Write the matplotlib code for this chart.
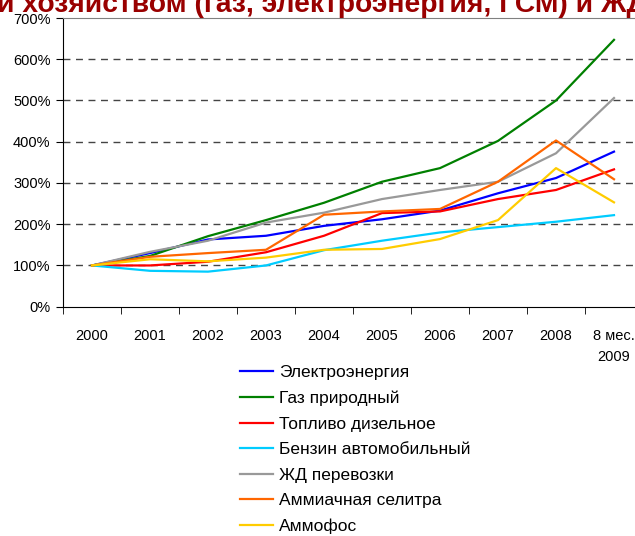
import numpy as np
import matplotlib.pyplot as plt

plt.rcParams['font.family'] = ['Liberation Sans', 'DejaVu Sans']

years = ["2000", "2001", "2002", "2003", "2004", "2005", "2006", "2007", "2008", "8 мес.\n2009"]

elektro = [100, 130, 163, 172, 196, 212, 233, 275, 312, 376]
gaz = [100, 123, 171, 210, 252, 303, 336, 402, 500, 647]
toplivo = [100, 100, 109, 132, 172, 227, 231, 261, 283, 333]
benzin = [100, 87, 85, 100, 137, 160, 180, 193, 206, 222]
zhd = [100, 133, 160, 204, 228, 261, 283, 303, 372, 506]
selitra = [100, 121, 130, 138, 223, 231, 237, 303, 403, 309]
ammofos = [100, 115, 110, 119, 138, 140, 164, 210, 336, 253]

series = [
    ("Электроэнергия", elektro, "#0000ff"),
    ("Газ природный", gaz, "#008000"),
    ("Топливо дизельное", toplivo, "#ff0000"),
    ("Бензин автомобильный", benzin, "#00ccff"),
    ("ЖД перевозки", zhd, "#999999"),
    ("Аммиачная селитра", selitra, "#ff6600"),
    ("Аммофос", ammofos, "#ffcc00"),
]

W, H = 635, 536
fig = plt.figure(figsize=(W / 100, H / 100), dpi=100)
ax = fig.add_axes([63 / W, (H - 306.7) / H, 580 / W, (306.7 - 18) / H])

x = np.arange(len(years))
for name, vals, col in series:
    ax.plot(x, vals, color=col, lw=1.6, label=name)

ax.set_xlim(-0.5, len(years) - 0.5)
ax.set_ylim(0, 700)
ax.set_yticks(range(0, 701, 100))
ax.set_yticklabels([f"{v}%" for v in range(0, 701, 100)], fontsize=10.5)
ax.set_xticks(x)
ax.set_xticklabels(years, fontsize=10.5, linespacing=1.65)
ax.set_xticks(np.arange(-0.5, len(years), 1), minor=True)
ax.tick_params(axis='x', which='major', length=0, pad=16)
ax.tick_params(axis='x', which='minor', length=5, direction='out')
ax.tick_params(axis='y', length=5, direction='out', pad=4)

for v in range(100, 700, 100):
    ax.axhline(v, color='#444444', lw=1, ls=(0, (5, 4)), zorder=0)

ax.spines['top'].set_color('#808080')
ax.spines['right'].set_visible(False)

ax.legend(loc='upper left', bbox_to_anchor=(240 / W, (H - 365) / H),
          bbox_transform=fig.transFigure, frameon=False, fontsize=12.5,
          handlelength=1.9, handletextpad=0.35, labelspacing=0.6,
          borderaxespad=0, borderpad=0)

fig.text(-3 / W, (H - 12) / H, "и хозяйством (газ, электроэнергия, ГСМ) и ЖД перевозки",
         fontsize=20.3, fontweight='bold', color='#990000', ha='left', va='baseline')

fig.savefig("out.png", dpi=100)
